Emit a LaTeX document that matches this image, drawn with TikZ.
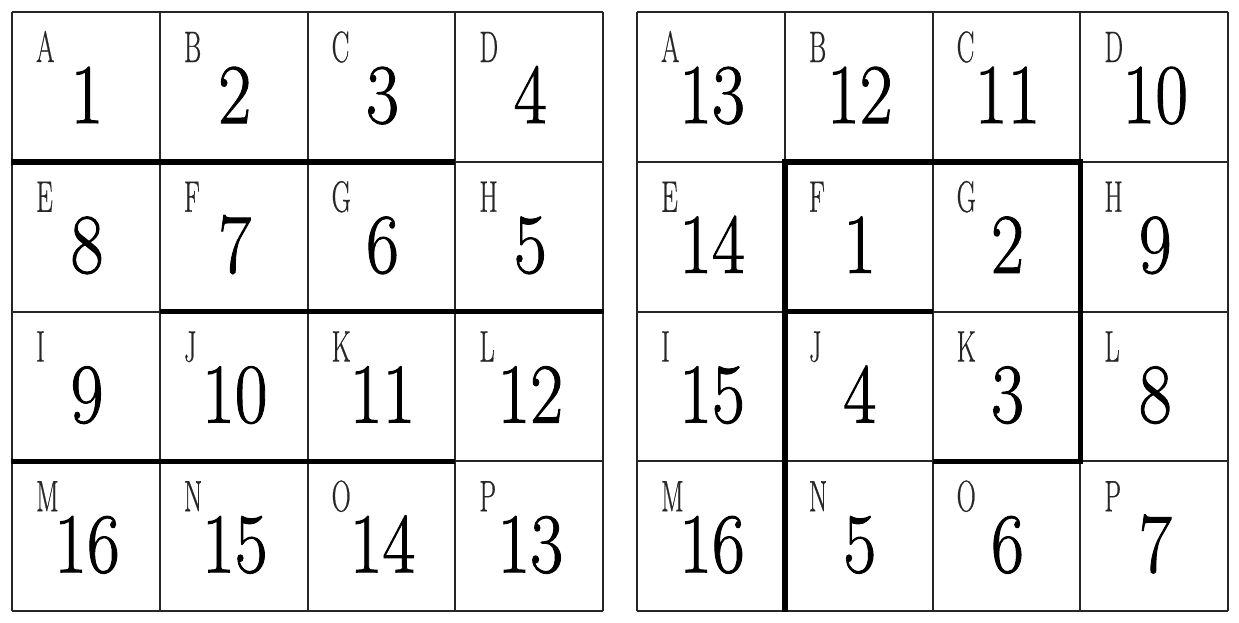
\documentclass[tikz,border=0pt]{standalone}
\usepackage{fontspec}
\newfontfamily\numfont[FakeBold=1.2]{Latin Modern Roman}
\newfontfamily\lblfont[FakeBold=0.8]{Latin Modern Roman}
\begin{document}
\begin{tikzpicture}[x=1pt,y=-1pt,
  thin line/.style={line width=2pt, black!85},
  thick line/.style={line width=5.5pt},
  lbl/.style={inner sep=0pt, anchor=base west, text=black!85,
    font=\lblfont\fontsize{44}{44}\selectfont},
  num/.style={inner sep=0pt, anchor=base,
    font=\numfont\fontsize{85}{85}\selectfont}]
\useasboundingbox (0,0) rectangle (1239,622);
% grids
\foreach \gx in {12,637}{
  \foreach \k in {0,...,4}{
    \draw[thin line] ({\gx+\k*147.75},12) -- ({\gx+\k*147.75},611);
    \draw[thin line] (\gx,{12+\k*149.75}) -- ({\gx+591},{12+\k*149.75});
  }
}
% left grid
\foreach \L/\N [count=\i from 0] in {A/1,B/2,C/3,D/4,E/8,F/7,G/6,H/5,I/9,J/10,K/11,L/12,M/16,N/15,O/14,P/13}{
  \pgfmathtruncatemacro\c{mod(\i,4)}
  \pgfmathtruncatemacro\r{div(\i,4)}
  \node[lbl] (l\L) at ({12+\c*147.75+24},{12+\r*149.75+50}) {\scalebox{0.6}[1]{\L}};
  \node[num] (ln\L) at ({12+\c*147.75+75},{12+\r*149.75+111}) {\scalebox{0.84}[1]{\N}};
}
% right grid
\foreach \L/\N [count=\i from 0] in {A/13,B/12,C/11,D/10,E/14,F/1,G/2,H/9,I/15,J/4,K/3,L/8,M/16,N/5,O/6,P/7}{
  \pgfmathtruncatemacro\c{mod(\i,4)}
  \pgfmathtruncatemacro\r{div(\i,4)}
  \node[lbl] (r\L) at ({637+\c*147.75+24},{12+\r*149.75+50}) {\scalebox{0.6}[1]{\L}};
  \node[num] (rn\L) at ({637+\c*147.75+75},{12+\r*149.75+111}) {\scalebox{0.84}[1]{\N}};
}
% thick walls, left
\draw[thick line] (11,161.75) -- (455.25,161.75);
\draw[thick line] (159.75,311.5) -- (604,311.5);
\draw[thick line] (11,461.25) -- (455.25,461.25);
% thick walls, right
\draw[thick line] (784.75,612) -- (784.75,161.75) -- (1080.25,161.75) -- (1080.25,461.25) -- (932.5,461.25);
\draw[thick line] (784.75,311.5) -- (932.5,311.5);
\end{tikzpicture}
\end{document}
